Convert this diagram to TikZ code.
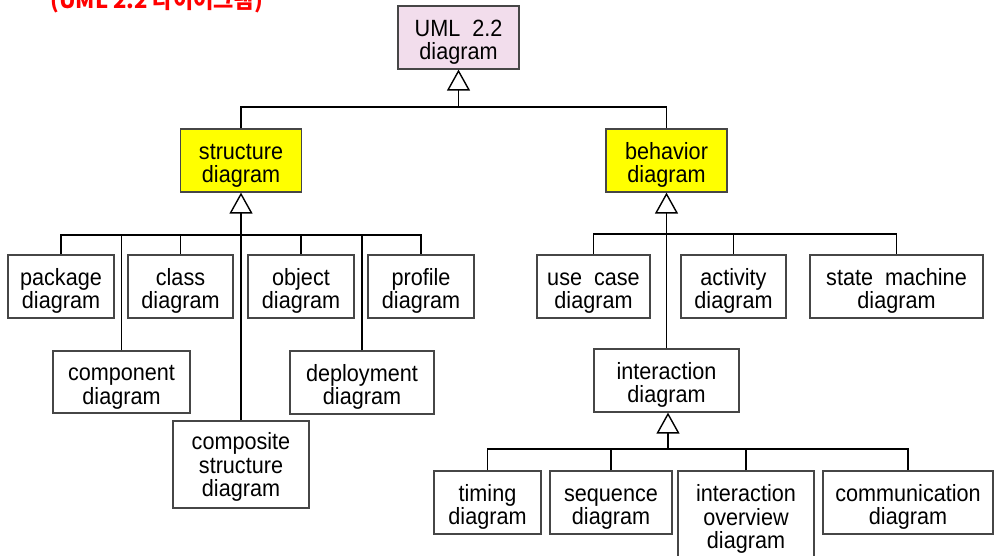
\documentclass[tikz,border=0pt]{standalone}
\usepackage{fontspec}
\setmainfont{Liberation Sans}[FakeStretch=0.92]
\newfontfamily\krfont{Noto Sans CJK KR}
\usetikzlibrary{arrows.meta}
\definecolor{umlpink}{RGB}{242,221,236}
\definecolor{umlyellow}{RGB}{255,255,0}
\definecolor{boxline}{RGB}{70,70,70}
\newcommand\tpa{\rule{0pt}{26pt}}
\newcommand\tpb{\rule{0pt}{22pt}}
\tikzset{
  box/.style={draw=boxline, line width=1.2pt, fill=white, inner sep=0pt, align=center,
    font=\fontsize{23.5}{23.5}\selectfont},
  conn/.style={draw=black, line width=1.7pt},
  gen/.style={conn, -{Triangle[open, length=21pt, width=23pt, line width=1.4pt]}},
}
\begin{document}
\begin{tikzpicture}[x=1pt, y=-1pt]
\useasboundingbox (0,0) rectangle (998,555);
% title (cut at the top)
\node[anchor=base west, inner sep=0pt, text=red, font=\krfont\bfseries\fontsize{22}{24}\selectfont] (title) at (50,8) {(UML 2.2 다이어그램)};
% boxes
\node[box, fill=umlpink, minimum width=121pt, minimum height=63pt] (uml) at (458.5,37.5) {\tpa UML\ \ 2.2\\diagram};
\node[box, fill=umlyellow, minimum width=121pt, minimum height=63pt] (structure) at (241,160.5) {\tpa structure\\diagram};
\node[box, fill=umlyellow, minimum width=121pt, minimum height=63pt] (behavior) at (666.5,160.5) {\tpa behavior\\diagram};
\node[box, minimum width=106pt, minimum height=63pt] (package) at (61,286.5) {\tpa package\\diagram};
\node[box, minimum width=105pt, minimum height=63pt] (class) at (180.5,286.5) {\tpa class\\diagram};
\node[box, minimum width=106pt, minimum height=63pt] (object) at (301,286.5) {\tpa object\\diagram};
\node[box, minimum width=106pt, minimum height=63pt] (profile) at (421,286.5) {\tpa profile\\diagram};
\node[box, minimum width=137pt, minimum height=62pt] (component) at (121.5,382) {\tpa component\\diagram};
\node[box, minimum width=144pt, minimum height=63pt] (deployment) at (362,382.5) {\tpa deployment\\diagram};
\node[box, minimum width=136pt, minimum height=87pt] (composite) at (241,464.5) {\tpb composite\\structure\\diagram};
\node[box, minimum width=113pt, minimum height=63pt] (usecase) at (593.5,286.5) {\tpa use\ \ case\\diagram};
\node[box, minimum width=105pt, minimum height=63pt] (activity) at (733.5,286.5) {\tpa activity\\diagram};
\node[box, minimum width=173pt, minimum height=63pt] (state) at (896.5,286.5) {\tpa state\ \ machine\\diagram};
\node[box, minimum width=145pt, minimum height=63pt] (interaction) at (666.5,380.5) {\tpa interaction\\diagram};
\node[box, minimum width=107pt, minimum height=63pt] (timing) at (487.5,502.5) {\tpa timing\\diagram};
\node[box, minimum width=122pt, minimum height=63pt] (sequence) at (611,502.5) {\tpa sequence\\diagram};
\node[box, minimum width=136pt, minimum height=91pt] (overview) at (746,516.5) {\tpb interaction\\overview\\diagram};
\node[box, minimum width=170pt, minimum height=63pt] (communication) at (908,502.5) {\tpa communication\\diagram};
% junctions
\coordinate (jtop) at (458.5,107);
\coordinate (jstr) at (241,235);
\coordinate (jbeh) at (666.5,234);
\coordinate (jint) at (668,449);
% top level
\draw[gen] (jtop) -- (uml.south);
\draw[conn] (structure.north) |- (jtop) -| (behavior.north);
% structure subtree
\draw[gen] (composite.north) -- (structure.south);
\draw[conn] (package.north) |- (jstr) -| (profile.north);
\draw[conn] (class.north) -- (class.north |- jstr);
\draw[conn] (object.north) -- (object.north |- jstr);
\draw[conn] (component.north) -- (component.north |- jstr);
\draw[conn] (deployment.north) -- (deployment.north |- jstr);
% behavior subtree
\draw[gen] (interaction.north) -- (behavior.south);
\draw[conn] (usecase.north) |- (jbeh) -| (state.north);
\draw[conn] (activity.north) -- (activity.north |- jbeh);
% interaction subtree
\draw[gen] (jint) -- (interaction.south -| jint);
\draw[conn] (timing.north) |- (jint) -| (communication.north);
\draw[conn] (sequence.north) -- (sequence.north |- jint);
\draw[conn] (overview.north) -- (overview.north |- jint);
\end{tikzpicture}
\end{document}
